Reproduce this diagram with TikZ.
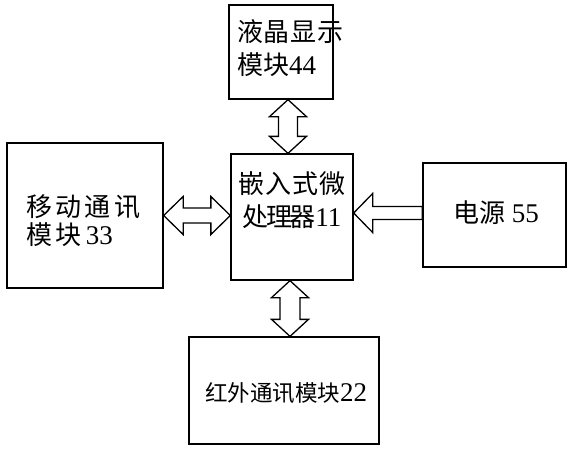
\documentclass[tikz,border=0pt]{standalone}
\usepackage{fontspec}
\setmainfont{Liberation Serif}
\newfontfamily\cjk{Noto Sans CJK SC}
\newfontfamily\cjksp{Noto Sans CJK SC}[LetterSpace=3]
\newfontfamily\cjknarrow{Noto Sans CJK SC}[LetterSpace=-10]
\newfontfamily\cjkwide{Noto Sans CJK SC}[LetterSpace=13]
\newcommand\dg[1]{{\fontsize{27pt}{27pt}\selectfont #1}}
\usetikzlibrary{calc}
\tikzset{
  box/.style={draw, line width=1.3pt, inner sep=0pt, rectangle},
  lbl/.style={inner sep=0pt, font=\fontsize{26pt}{33pt}\selectfont},
  arr/.style={draw, line width=1.3pt, line join=miter, fill=white}
}
\newcommand\vdarrow[5]{%
  \path[arr] (#1) -- ++(#3,#5) -- ++({-(#3-#4)},0) -- ($(#2)+(#4,-#5)$) -- ++({#3-#4},0) -- (#2)
     -- ++(-#3,-#5) -- ++({#3-#4},0) -- ($(#1)+(-#4,#5)$) -- ++({-(#3-#4)},0) -- cycle;}
\newcommand\hdarrow[5]{%
  \path[arr] (#1) -- ++(#5,-#3) -- ++(0,{#3-#4}) -- ($(#2)+(-#5,-#4)$) -- ++(0,{-(#3-#4)}) -- (#2)
     -- ++(-#5,#3) -- ++(0,{-(#3-#4)}) -- ($(#1)+(#5,#4)$) -- ++(0,{#3-#4}) -- cycle;}
\begin{document}
\begin{tikzpicture}[x=1pt,y=-1pt]
\useasboundingbox (0,0) rectangle (572,450);
% boxes
\node[box, minimum width=104pt, minimum height=94pt]  (lcd) at (281,52) {};
\node[box, minimum width=122pt, minimum height=126pt] (cpu) at (292,217) {};
\node[box, minimum width=156pt, minimum height=145pt] (mob) at (85,215.5) {};
\node[box, minimum width=143pt, minimum height=104pt] (pwr) at (494.5,215) {};
\node[box, minimum width=190pt, minimum height=107pt] (ir)  at (284,390.5) {};
% texts
\node[lbl, anchor=west, align=left] (lcdt) at (237,48) {{\cjksp 液晶显示}\\{\cjk 模块}\dg{44}};
\node[lbl, align=center] (cput) at (292,200) {{\cjksp 嵌入式微}\\{\cjknarrow 处理器}\dg{11}};
\node[lbl, anchor=west, align=left, font=\fontsize{26pt}{28pt}\selectfont] (mobt) at (26,221) {{\cjkwide 移动通讯}\\{\cjkwide 模块}\,\dg{33}};
\node[lbl] (pwrt) at (496,213) {{\cjk 电源} \dg{55}};
\node[lbl, font=\fontsize{22.5pt}{27pt}\selectfont] (irt) at (286,393) {{\cjk 红外通讯模块}\dg{22}};
% connectors
\coordinate (t1) at ($(lcd.south)+(7,0)$);
\coordinate (t2) at (t1 |- cpu.north);
\vdarrow{t1}{t2}{18.5}{9.5}{17}
\coordinate (b1) at ($(cpu.south)+(-2,0)$);
\coordinate (b2) at (b1 |- ir.north);
\vdarrow{b1}{b2}{18.5}{10}{17}
\coordinate (l2) at (cpu.west |- mob.east);
\hdarrow{mob.east}{l2}{19}{7.5}{19.5}
\coordinate (r1) at ($(cpu.east)+(0,-4)$);
\coordinate (r2) at (r1 -| pwr.west);
\path[arr] (r1) -- ++(19,-19.5) -- ++(0,13) -- ($(r2)+(0,-6.5)$) -- ($(r2)+(0,6.5)$) -- ($(r1)+(19,6.5)$) -- ++(0,13) -- cycle;
\end{tikzpicture}
\end{document}
